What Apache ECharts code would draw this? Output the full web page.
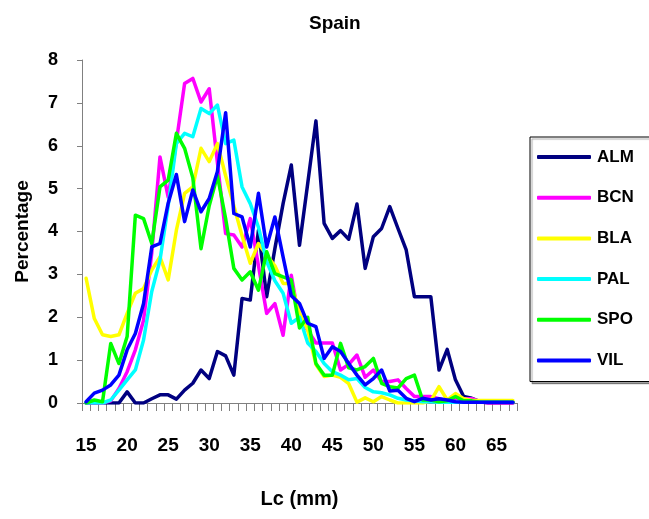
<!DOCTYPE html>
<html>
<head>
<meta charset="utf-8">
<script src="https://cdn.jsdelivr.net/npm/echarts@6/dist/echarts.min.js"></script>
<style>html,body{margin:0;padding:0;background:#fff}#c{width:649px;height:519px}</style>
</head>
<body>
<div id="c"></div>
<script>
const lengths = [15,16,17,18,19,20,21,22,23,24,25,26,27,28,29,30,31,32,33,34,35,36,37,38,39,40,41,42,43,44,45,46,47,48,49,50,51,52,53,54,55,56,57,58,59,60,61,62,63,64,65,66,67];
const ALM = [0,0,0,0,0,0.26,0,0,0.1,0.19,0.19,0.09,0.3,0.46,0.77,0.57,1.2,1.1,0.65,2.44,2.4,4.03,2.48,3.6,4.65,5.55,3.68,5.12,6.58,4.19,3.84,4.02,3.82,4.64,3.14,3.88,4.07,4.58,4.07,3.57,2.48,2.48,2.48,0.77,1.25,0.54,0.15,0.11,0.03,0,0,0,0];
const BCN = [0,0,0,0.05,0.34,0.73,1.24,1.93,3.5,5.74,4.8,6.1,7.45,7.57,7.02,7.33,5.6,3.95,3.92,3.64,4.3,3.2,2.09,2.32,1.58,2.98,1.9,1.7,1.4,1.4,1.4,0.77,0.9,1.12,0.6,0.77,0.5,0.5,0.54,0.34,0.15,0.15,0.15,0.1,0.05,0.1,0.1,0.1,0.03,0,0,0,0];
const BLA = [2.91,1.97,1.59,1.55,1.59,2.09,2.56,2.67,3.1,3.41,2.87,4.03,4.89,5.04,5.94,5.63,6.05,5.3,4.6,3.9,3.26,3.72,3.45,3.2,2.79,2.79,2.1,1.7,0.9,0.62,0.65,0.6,0.45,0.02,0.12,0.03,0.15,0.07,0,0,0,0,0.05,0.38,0.07,0.22,0.1,0.06,0.06,0.06,0.06,0.06,0.06];
const PAL = [0,0,0,0.07,0.3,0.54,0.77,1.47,2.6,3.33,4.6,6.05,6.29,6.21,6.87,6.75,6.95,6.05,6.13,5.04,4.65,4.1,3.3,2.85,2.56,1.86,2.0,1.4,1.2,0.92,0.73,0.65,0.54,0.57,0.36,0.26,0.24,0.19,0.11,0.07,0.05,0.03,0.03,0.02,0.02,0.02,0.02,0.02,0.02,0.02,0.02,0.02,0.02];
const SPO = [0,0.07,0.03,1.39,0.92,1.55,4.38,4.3,3.72,5.04,5.2,6.29,5.94,5.25,3.6,4.6,5.3,4.3,3.14,2.87,3.06,2.63,3.53,3.02,2.94,2.87,1.75,2.0,0.92,0.65,0.65,1.39,0.82,0.77,0.85,1.04,0.46,0.38,0.35,0.57,0.65,0.07,0.07,0.03,0.05,0.15,0.05,0.05,0.02,0.02,0.02,0.02,0.02];
const VIL = [0.03,0.23,0.3,0.42,0.65,1.24,1.62,2.32,3.64,3.72,4.66,5.33,4.23,4.97,4.46,4.77,5.4,6.77,4.42,4.34,3.64,4.89,3.64,4.34,3.41,2.5,2.32,1.86,1.78,1.04,1.31,1.2,0.92,0.65,0.42,0.57,0.77,0.28,0.3,0.11,0.03,0.11,0.07,0.1,0.07,0.03,0.02,0.02,0.02,0.02,0.02,0.02,0.02];
const seriesNames = ['ALM','BCN','BLA','PAL','SPO','VIL'];
const seriesData = [ALM,BCN,BLA,PAL,SPO,VIL];
const colors = ['#000080','#FF00FF','#FFFF00','#00FFFF','#00FF00','#0000FF'];

const FONT = 'Arial, "Liberation Sans", sans-serif';
const chart = echarts.init(document.getElementById('c'), null, {renderer:'canvas'});
chart.setOption({
  animation: false,
  backgroundColor: '#ffffff',
  title: {
    text: 'Spain', left: 304, top: 9,
    textStyle: {fontFamily: FONT, fontWeight: 'bold', fontSize: 19, color: '#000'}
  },
  color: colors,
  grid: {left: 82, right: 132, top: 60, bottom: 116, containLabel: false},
  legend: {
    orient: 'vertical', left: 530, top: 137,
    padding: [10, 70, 11, 7],
    borderColor: '#000', borderWidth: 1,
    shadowColor: 'rgba(0,0,0,0.35)', shadowOffsetX: 2, shadowOffsetY: 2, shadowBlur: 1,
    backgroundColor: '#fff',
    icon: 'roundRect', itemWidth: 54, itemHeight: 4, itemGap: 20.7,
    textStyle: {fontFamily: FONT, fontWeight: 'bold', fontSize: 17, color: '#000', lineHeight: 20, padding: [0,0,0,1]},
    data: seriesNames
  },
  xAxis: {
    type: 'category', data: lengths, boundaryGap: true,
    name: 'Lc (mm)', nameLocation: 'middle', nameGap: 86,
    nameTextStyle: {fontFamily: FONT, fontWeight: 'bold', fontSize: 20, color: '#000'},
    axisLine: {lineStyle: {color: '#808080', width: 1}},
    axisTick: {show: true, interval: 0, length: 8, alignWithLabel: false, lineStyle: {color: '#808080'}},
    axisLabel: {
      interval: function (i, v) { return Number(v) % 5 === 0; },
      margin: 33, fontFamily: FONT, fontWeight: 'bold', fontSize: 19, color: '#000'
    },
    splitLine: {show: false}
  },
  yAxis: {
    type: 'value', min: 0, max: 8, interval: 1,
    name: 'Percentage', nameLocation: 'middle', nameGap: 50, nameRotate: 90,
    nameTextStyle: {fontFamily: FONT, fontWeight: 'bold', fontSize: 19, color: '#000'},
    axisLine: {show: true, lineStyle: {color: '#808080', width: 1}},
    axisTick: {show: true, length: 5, lineStyle: {color: '#808080'}},
    axisLabel: {margin: 24, fontFamily: FONT, fontWeight: 'bold', fontSize: 18, color: '#000'},
    splitLine: {show: false}
  },
  series: seriesNames.map((n, i) => ({
    name: n, type: 'line', data: seriesData[i], showSymbol: false, symbol: 'none',
    lineStyle: {width: 3.5, color: colors[i], join: 'round', cap: 'round'},
    itemStyle: {color: colors[i]}
  }))
});
</script>
</body>
</html>
